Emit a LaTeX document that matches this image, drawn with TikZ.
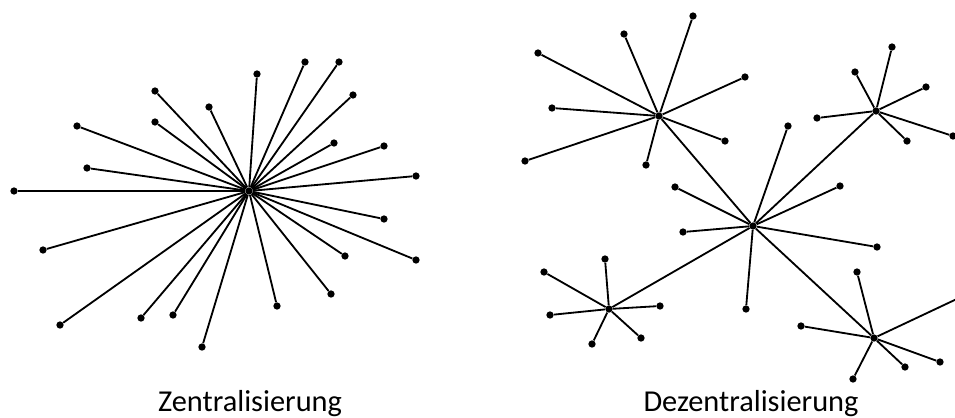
\documentclass[tikz,border=0pt]{standalone}
\usepackage{fontspec}
\setmainfont{Carlito}
\tikzset{
dot/.style={circle, fill=black, inner sep=0pt, minimum size=5.2pt},
spoke/.style={line width=1.3pt},
caption/.style={anchor=base, font=\fontsize{21.6}{25}\selectfont}
}

\begin{document}
\begin{tikzpicture}[x=0.025cm, y=-0.025cm]
\useasboundingbox (0,0) rectangle (955,417);
\clip (0,0) rectangle (955,417);
% star with one centre
\node[dot] (z) at (249,191) {};
\foreach \x/\y [count=\i] in {155/91, 209/107, 155/122, 77/126, 87/168, 14/191,
  43/250, 60/325, 141/318, 173/315, 202/347, 277/306, 331/294, 345/256,
  416/260, 384/219, 416/176, 384/146, 334/143, 353/95, 339/62, 305/62, 257/74}
  {
  \node[dot] (z\i) at (\x,\y) {};
  \draw[spoke] (z) -- (z\i);
  }
\node[caption] (zcap) at (250,411) {Zentralisierung};

% several hubs
\node[dot] (a) at (659,116) {};
\node[dot] (b) at (876,111) {};
\node[dot] (c) at (753,226) {};
\node[dot] (d) at (874,338) {};
\node[dot] (e) at (609,309) {};
\draw[spoke] (a) -- (c);
\draw[spoke] (b) -- (c);
\draw[spoke] (d) -- (c);
\draw[spoke] (e) -- (c);
\foreach \h/\x/\y [count=\i] in {a/693/16, a/624/34, a/538/53, a/552/108,
  a/525/161, a/646/165, a/725/141, a/745/77,
  b/892/47, b/855/72, b/926/87, b/817/118, b/907/141, b/953/136,
  c/675/187, c/683/232, c/788/126, c/840/186, c/877/247, c/746/309,
  d/857/272, d/801/326, d/905/367, d/940/362, d/853/379,
  e/605/259, e/544/272, e/550/315, e/660/306, e/641/338, e/592/344}
  {
  \node[dot] (\h\i) at (\x,\y) {};
  \draw[spoke] (\h) -- (\h\i);
  }
\coordinate (dout) at (978,289);
\draw[spoke] (d) -- (dout);
\node[caption] (dcap) at (751,411) {Dezentralisierung};
\end{tikzpicture}
\end{document}
